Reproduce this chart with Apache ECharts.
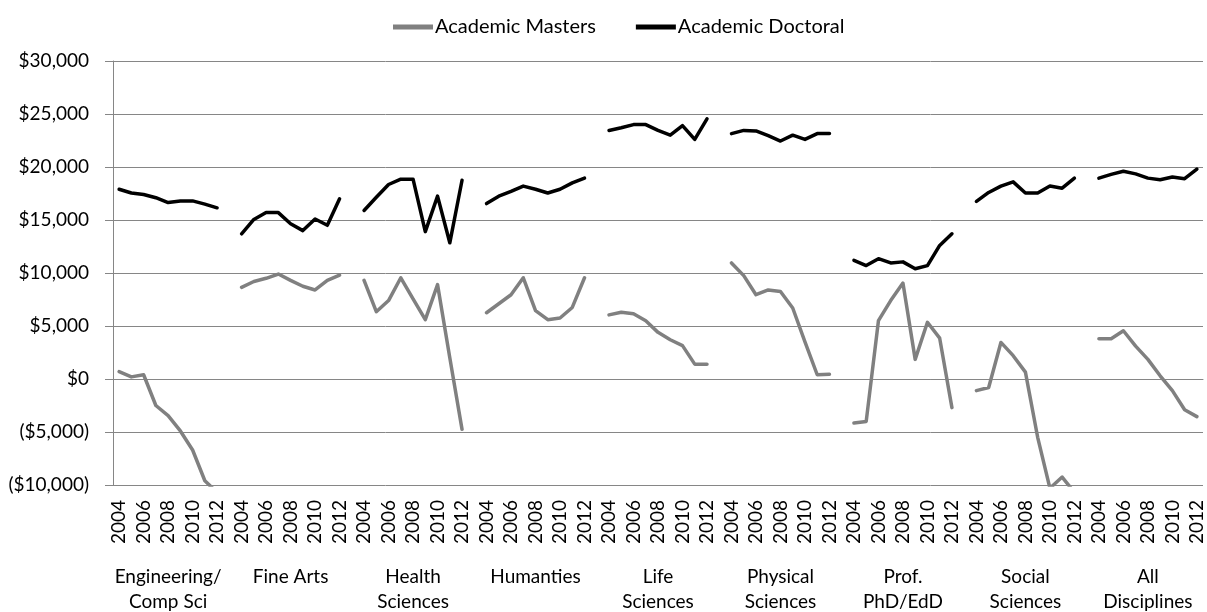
<!DOCTYPE html>
<html>
<head>
<meta charset="utf-8">
<script src="https://cdn.jsdelivr.net/npm/echarts@6/dist/echarts.min.js"></script>
<style>
html,body{margin:0;padding:0;background:#fff;}
#chart{width:1207px;height:612px;}
</style>
</head>
<body>
<div id="chart"></div>
<script>
const groups = ['Engineering/\nComp Sci','Fine Arts','Health\nSciences','Humanties','Life\nSciences','Physical\nSciences','Prof.\nPhD/EdD','Social\nSciences','All\nDisciplines'];
const years = ['2004','2005','2006','2007','2008','2009','2010','2011','2012'];
const seriesNames = ['Academic Masters','Academic Doctoral'];

const mastersEng    = [700, 200, 400, -2500, -3450, -4900, -6700, -9600, -10700];
const mastersFine   = [8650, 9200, 9500, 9900, 9300, 8750, 8400, 9300, 9800];
const mastersHealth = [9300, 6350, 7400, 9550, 7550, 5600, 8900, 2000, -4750];
const mastersHum    = [6250, 7100, 7950, 9550, 6450, 5600, 5750, 6750, 9550];
const mastersLife   = [6050, 6300, 6150, 5500, 4400, 3700, 3150, 1400, 1400];
const mastersPhys   = [10950, 9750, 7950, 8400, 8250, 6700, 3500, 400, 450];
const mastersProf   = [-4150, -4000, 5500, 7400, 9050, 1850, 5350, 3850, -2700];
const mastersSocial = [-1100, -800, 3450, 2200, 650, -5500, -10300, -9250, -10700];
const mastersAll    = [3800, 3800, 4550, 3100, 1850, 300, -1100, -2900, -3550];

const doctoralEng    = [17900, 17550, 17400, 17100, 16650, 16800, 16800, 16500, 16150];
const doctoralFine   = [13700, 15050, 15700, 15700, 14650, 14000, 15100, 14500, 17000];
const doctoralHealth = [15900, 17150, 18350, 18850, 18850, 13900, 17250, 12850, 18750];
const doctoralHum    = [16550, 17250, 17700, 18200, 17900, 17550, 17900, 18500, 18950];
const doctoralLife   = [23450, 23700, 24000, 24000, 23450, 23000, 23900, 22600, 24550];
const doctoralPhys   = [23150, 23450, 23400, 22950, 22450, 23000, 22600, 23150, 23150];
const doctoralProf   = [11200, 10700, 11350, 10950, 11050, 10400, 10700, 12600, 13700];
const doctoralSocial = [16750, 17600, 18200, 18600, 17550, 17550, 18200, 18000, 18950];
const doctoralAll    = [18950, 19300, 19600, 19350, 18950, 18800, 19050, 18900, 19800];

const mastersByGroup = [mastersEng, mastersFine, mastersHealth, mastersHum, mastersLife, mastersPhys, mastersProf, mastersSocial, mastersAll];
const doctoralByGroup = [doctoralEng, doctoralFine, doctoralHealth, doctoralHum, doctoralLife, doctoralPhys, doctoralProf, doctoralSocial, doctoralAll];

// Build flat category list: each group's years followed by a blank separator
const categories = [];
const masters = [];
const doctoral = [];
groups.forEach((g, gi) => {
  years.forEach((y, yi) => {
    categories.push(gi + '|' + y);
    masters.push(mastersByGroup[gi][yi]);
    doctoral.push(doctoralByGroup[gi][yi]);
  });
  if (gi < groups.length - 1) {
    categories.push(gi + '|');
    masters.push(null);
    doctoral.push(null);
  }
});

const FONT = 'Lato';
const TXT = '#000';
const AXIS = '#868686';

function money(v) {
  const s = '$' + Math.abs(v).toLocaleString('en-US');
  return v < 0 ? '(' + s + ')' : s;
}

const chart = echarts.init(document.getElementById('chart'), null, {renderer: 'canvas'});
chart.setOption({
  animation: false,
  backgroundColor: '#fff',
  textStyle: {fontFamily: FONT, color: TXT},
  legend: {
    data: seriesNames,
    top: 12,
    left: 388,
    icon: 'rect',
    itemWidth: 40,
    itemHeight: 5,
    itemGap: 40,
    textStyle: {fontFamily: FONT, fontSize: 20, color: TXT, padding: [0,0,0,-3]}
  },
  grid: {left: 113, right: 4, top: 61, bottom: 127, containLabel: false, outerBoundsMode: 'none'},
  xAxis: [{
    type: 'category',
    data: categories,
    boundaryGap: true,
    axisLine: {show: true, lineStyle: {color: AXIS, width: 1}},
    axisTick: {show: false},
    axisLabel: {
      interval: 1,
      rotate: 90,
      margin: 15,
      fontFamily: FONT,
      fontSize: 19,
      color: TXT,
      formatter: (v) => v.split('|')[1]
    },
    splitLine: {show: false}
  }, {
    type: 'category',
    data: categories,
    position: 'bottom',
    offset: 71,
    boundaryGap: true,
    axisLine: {show: false},
    axisTick: {show: false},
    axisLabel: {
      interval: 0,
      margin: 8,
      fontFamily: FONT,
      fontSize: 19,
      lineHeight: 25,
      color: TXT,
      align: 'center',
      formatter: (v, i) => (i % 10 === 4 ? groups[Math.floor(i / 10)] : '')
    },
    splitLine: {show: false}
  }],
  yAxis: {
    type: 'value',
    min: -10000,
    max: 30000,
    interval: 5000,
    axisLine: {show: true, lineStyle: {color: AXIS, width: 1}},
    axisTick: {show: true, length: 8, lineStyle: {color: AXIS}},
    axisLabel: {margin: 24, fontFamily: FONT, fontSize: 19, color: TXT, formatter: money},
    splitLine: {show: true, lineStyle: {color: AXIS, width: 1}}
  },
  series: [{
    name: seriesNames[0],
    type: 'line',
    data: masters,
    symbol: 'none',
    connectNulls: false,
    clip: true,
    color: '#808080',
    lineStyle: {color: '#808080', width: 3.5, cap: 'round', join: 'round'}
  }, {
    name: seriesNames[1],
    type: 'line',
    data: doctoral,
    symbol: 'none',
    connectNulls: false,
    clip: true,
    color: '#000000',
    lineStyle: {color: '#000000', width: 3.5, cap: 'round', join: 'round'}
  }]
});
</script>
</body>
</html>
